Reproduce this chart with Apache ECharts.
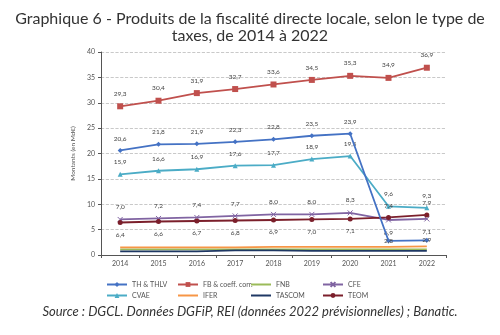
<!DOCTYPE html>
<html><head><meta charset="utf-8">
<script src="https://cdn.jsdelivr.net/npm/echarts@6/dist/echarts.min.js"></script>
<style>html,body{margin:0;padding:0;background:#fff}#c{width:500px;height:335px}</style>
</head><body><div id="c"></div>
<script>
const years = ['2014','2015','2016','2017','2018','2019','2020','2021','2022'];
const thThlv = [20.6, 21.8, 21.9, 22.3, 22.8, 23.5, 23.9, 2.8, 2.9];
const fbCoeff = [29.3, 30.4, 31.9, 32.7, 33.6, 34.5, 35.3, 34.9, 36.9];
const fnb = [1.1, 1.1, 1.1, 1.1, 1.1, 1.1, 1.1, 1.1, 1.1];
const cfe = [7.0, 7.2, 7.4, 7.7, 8.0, 8.0, 8.3, 6.9, 7.1];
const cvae = [15.9, 16.6, 16.9, 17.6, 17.7, 18.9, 19.5, 9.6, 9.3];
const ifer = [1.5, 1.5, 1.5, 1.5, 1.6, 1.6, 1.6, 1.6, 1.7];
const tascom = [0.7, 0.7, 0.7, 0.9, 0.9, 0.8, 0.8, 0.8, 0.8];
const teom = [6.4, 6.6, 6.7, 6.8, 6.9, 7.0, 7.1, 7.4, 7.9];
const yTicks = [0, 5, 10, 15, 20, 25, 30, 35, 40];

const fmt = v => String(v.toFixed(1)).replace('.', ',');
const lbl = {show:true, fontSize:6.5, color:'#444', fontFamily:'Lato', formatter:p=>fmt(p.value), distance:6};
function withPos(arr, posFn){ return arr.map((v,i)=>({value:v, label:{position:posFn(i)}})); }

const chart = echarts.init(document.getElementById('c'), null, {renderer:'canvas'});
const legendText = {fontSize:7, color:'#555', fontFamily:'Lato'};
const lineIcon = 'path://M0,4L20,4L20,6L0,6Z';
function leg(left, names){ return {left:left, top:276, orient:'vertical', itemGap:3, itemWidth:20, itemHeight:6, itemGap:4, textStyle:legendText,
  data:names.map(n=>(['FNB','IFER','TASCOM'].includes(n)?{name:n, icon:lineIcon}:n))}; }
chart.setOption({
  animation:false,
  title:{text:'Graphique 6 - Produits de la fiscalité directe locale, selon le type de\ntaxes, de 2014 à 2022', left:'center', top:5,
    textStyle:{fontSize:16, fontWeight:'normal', color:'#333', fontFamily:'Lato', lineHeight:17, align:'center'}},
  legend:[leg(101,['TH & THLV','CVAE']), leg(172,['FB & coeff. corr.','IFER']), leg(246,['FNB','TASCOM']), leg(317,['CFE','TEOM'])],
  grid:{left:101, right:54, top:52, bottom:80},
  xAxis:{type:'category', data:years, boundaryGap:true,
    axisLine:{lineStyle:{color:'#555'}}, axisTick:{show:true, length:3, lineStyle:{color:'#555'}},
    axisLabel:{fontSize:7, color:'#555', fontFamily:'Lato', margin:5}},
  yAxis:{type:'value', min:0, max:40, interval:5,
    name:'Montants (en Md€)', nameLocation:'middle', nameGap:19, nameTextStyle:{fontSize:6.5, color:'#555', fontFamily:'Lato'},
    axisLine:{show:true, lineStyle:{color:'#555'}}, axisTick:{show:true, length:3, lineStyle:{color:'#555'}},
    axisLabel:{fontSize:7, color:'#555', fontFamily:'Lato', margin:6, formatter:v=>yTicks.includes(v)?String(v):''},
    splitLine:{lineStyle:{type:'dashed', color:'#bbb', width:0.8}}},
  series:[
    {name:'TH & THLV', type:'line', data:withPos(thThlv, i=>i>=7?'inside':'top'), color:'#4472c4', symbol:'diamond', symbolSize:5, lineStyle:{width:1.8}, label:lbl, z:5},
    {name:'FB & coeff. corr.', type:'line', data:fbCoeff, color:'#c0504d', symbol:'rect', symbolSize:6, lineStyle:{width:1.8}, label:Object.assign({position:'top'},lbl)},
    {name:'FNB', type:'line', data:fnb, color:'#9bbb59', symbol:'none', lineStyle:{width:1.8}},
    {name:'CFE', type:'line', data:withPos(cfe, i=>i>=7?'bottom':'top'), color:'#8064a2', symbol:'path://M0,0L10,10M10,0L0,10', symbolSize:5, itemStyle:{borderColor:'#8064a2', borderWidth:1}, lineStyle:{width:1.8}, label:lbl},
    {name:'CVAE', type:'line', data:cvae, color:'#4bacc6', symbol:'triangle', symbolSize:5, lineStyle:{width:1.8}, label:Object.assign({position:'top'},lbl)},
    {name:'IFER', type:'line', data:ifer, color:'#f79646', symbol:'none', lineStyle:{width:1.8}},
    {name:'TASCOM', type:'line', data:tascom, color:'#1f3864', symbol:'none', lineStyle:{width:1.8}},
    {name:'TEOM', type:'line', data:withPos(teom, i=>i>=7?'top':'bottom'), color:'#7b1f2b', symbol:'circle', symbolSize:5, lineStyle:{width:1.8}, label:lbl}
  ],
  graphic:[{type:'text', left:'center', top:305, style:{text:'Source : DGCL. Données DGFiP, REI (données 2022 prévisionnelles) ; Banatic.', fontSize:13, fontStyle:'italic', fill:'#333', fontFamily:'Lato'}}]
});
</script></body></html>
